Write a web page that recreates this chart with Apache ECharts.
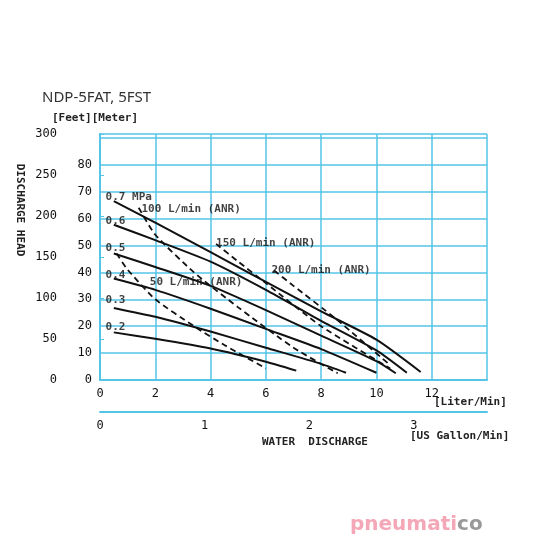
<!DOCTYPE html><html><head><meta charset="utf-8"><script src="https://cdn.jsdelivr.net/npm/echarts@6/dist/echarts.min.js"></script></head><body style="margin:0"><div id="c" style="width:540px;height:540px"></div><script>
const p07=[[0.5,66.5],[2,58.5],[4,47.5],[6,36.5],[8,25.5],[10,15],[11.6,3]];
const p06=[[0.5,57.7],[2,52],[4,44],[6,33.5],[8,22],[10,11],[11.1,2.7]];
const p05=[[0.5,47],[2,42],[4,35],[6,26],[8,16.5],[10,7],[10.7,2.5]];
const p04=[[0.5,37.7],[2,33.5],[4,26.5],[6,19],[8,11.5],[10,2.7]];
const p03=[[0.5,26.8],[2,23.5],[4,18],[6,12],[8,6],[8.9,2.7]];
const p02=[[0.5,17.7],[2,15.3],[4,11.7],[6,6.8],[7.1,3.5]];
const a50=[[0.6,47],[1,41],[2,30],[3.4,20],[4.5,13],[6,4.3]];
const a100=[[1.4,64],[2,54],[3.4,40],[5,27],[7,12],[8.6,2.5]];
const a150=[[4.2,50.6],[5,44],[6,36],[8,20],[10.5,4.3]];
const a200=[[6.3,40.7],[7,35],[8.5,23],[10.5,5.5]];
const pLabels=[["0.7 MPa",0.2,68],["0.6",0.2,59],["0.5",0.2,49],["0.4",0.2,39],["0.3",0.2,29.5],["0.2",0.2,19.5]];
const aLabels=[["100 L/min (ANR)",1.5,63.5],["150 L/min (ANR)",4.2,51],["200 L/min (ANR)",6.2,41],["50 L/min (ANR)",1.8,36.5]];
const blue='#55c4e6', mono='DejaVu Sans Mono';
const ch=echarts.init(document.getElementById('c'));
const solid=d=>({type:'line',data:d,smooth:0.2,symbol:'none',lineStyle:{color:'#111',width:2},xAxisIndex:0,yAxisIndex:0});
const dash=d=>({type:'line',data:d,smooth:0.2,symbol:'none',lineStyle:{color:'#111',width:1.8,type:[6,4]},xAxisIndex:0,yAxisIndex:0});
const txt=(arr)=>({type:'scatter',symbolSize:0,data:arr.map(a=>[a[1],a[2],a[0]]),label:{show:true,position:'right',distance:0,formatter:p=>p.data[2],fontFamily:mono,fontWeight:'bold',fontSize:11,color:'#111'},xAxisIndex:0,yAxisIndex:0});
ch.setOption({animation:false,
grid:{left:100,right:53,top:134,bottom:160},
xAxis:[{type:'value',min:0,max:14,interval:2,axisLine:{lineStyle:{color:blue,width:2}},axisTick:{show:false},splitLine:{lineStyle:{color:blue,width:1.5}},axisLabel:{color:'#111',fontFamily:mono,fontSize:12,formatter:v=>v>12?'':v}},
{type:'value',min:0,max:14/3.785,interval:1,position:'bottom',offset:32,axisLine:{onZero:false,lineStyle:{color:blue,width:2}},axisTick:{show:false},splitLine:{show:false},axisLabel:{color:'#111',fontFamily:mono,fontSize:12,formatter:v=>Math.abs(v-Math.round(v))<1e-6?v:''}}],
yAxis:[{type:'value',min:0,max:91.44,interval:10,axisLine:{show:true,lineStyle:{color:blue,width:2}},axisTick:{show:false},splitLine:{lineStyle:{color:blue,width:1.5}},axisLabel:{color:'#111',fontFamily:mono,fontSize:12,formatter:v=>v>80?'':v}},
{type:'value',min:0,max:300,interval:50,position:'left',offset:35,axisLine:{show:true,lineStyle:{color:blue,width:2}},axisTick:{show:true,inside:true,length:4,lineStyle:{color:blue}},splitLine:{show:false},axisLabel:{color:'#111',fontFamily:mono,fontSize:12}}],
series:[solid(p07),solid(p06),solid(p05),solid(p04),solid(p03),solid(p02),dash(a50),dash(a100),dash(a150),dash(a200),txt(pLabels),txt(aLabels)],
graphic:[
{type:'text',left:42,top:90,style:{text:'NDP-5FAT, 5FST',font:'15px "Noto Sans"',fill:'#333'}},
{type:'text',left:52,top:113,style:{text:'[Feet][Meter]',font:'bold 11px "DejaVu Sans Mono"',fill:'#222'}},
{type:'text',x:20,y:210,rotation:-Math.PI/2,style:{text:'DISCHARGE HEAD',font:'bold 11px "DejaVu Sans Mono"',fill:'#222',align:'center',verticalAlign:'middle'}},
{type:'text',left:262,top:437,style:{text:'WATER  DISCHARGE',font:'bold 11px "DejaVu Sans Mono"',fill:'#222'}},
{type:'text',left:434,top:397,style:{text:'[Liter/Min]',font:'bold 11px "DejaVu Sans Mono"',fill:'#222'}},
{type:'text',left:410,top:431,style:{text:'[US Gallon/Min]',font:'bold 11px "DejaVu Sans Mono"',fill:'#222'}},
{type:'text',left:350,top:515,style:{text:'{p|pneumati}{c|co}',font:'bold 20px "DejaVu Sans"',rich:{p:{fill:'#f4a7b6',font:'bold 20px "DejaVu Sans"'},c:{fill:'#999',font:'bold 20px "DejaVu Sans"'}}}}
]});
</script></body></html>
